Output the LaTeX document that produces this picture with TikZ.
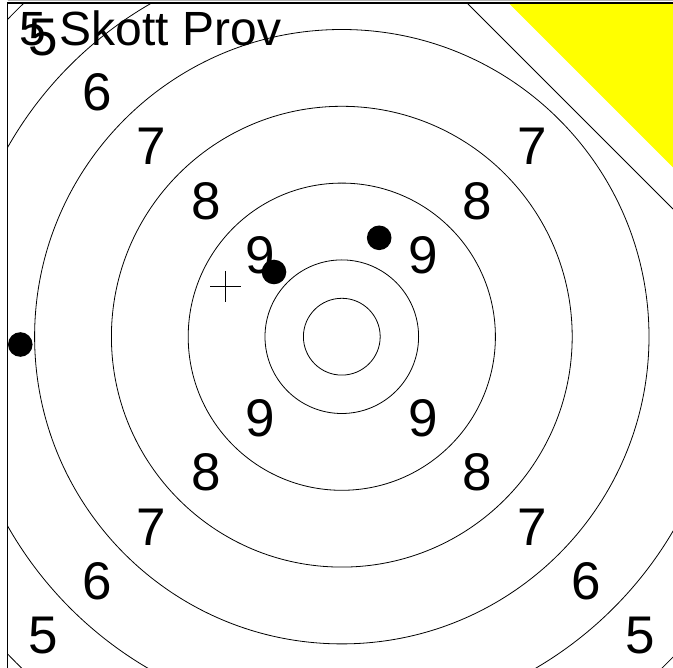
\documentclass[tikz,border=0pt]{standalone}
\usepackage{fontspec}
\setmainfont{Liberation Sans}
\usepackage{tikz}
\usetikzlibrary{calc}

\definecolor{giallo}{RGB}{255,255,0}
\tikzset{
    ring/.style={line width=0.8pt},
    ringnum/.style={inner sep=0pt, font=\fontsize{53}{60}\selectfont},
}

\begin{document}
\begin{tikzpicture}[x=1pt,y=-1pt]
    \useasboundingbox (0,0) rectangle (673,668);
    \coordinate (C) at (341.8,336.7);

    % cerchi
    \begin{scope}
        \clip (7.5,3.5) rectangle (673,668);
        \foreach \r in {38.4,76.8,153.6,230.4,307.2,384,460.8}
            \draw[ring] (C) circle[radius=\r pt];
    \end{scope}

    % numeri
    \foreach \n/\d in {9/81.5, 8/135.8, 7/190.1} {
        \node[ringnum] (tl\n) at ($(C)+(-\d,-\d)$) {\n};
        \node[ringnum] (tr\n) at ($(C)+(\d,-\d)$) {\n};
        \node[ringnum] (bl\n) at ($(C)+(-\d,\d)$) {\n};
        \node[ringnum] (br\n) at ($(C)+(\d,\d)$) {\n};
    }
    \node[ringnum] (tl6) at ($(C)+(-244.4,-244.4)$) {6};
    \node[ringnum] (bl6) at ($(C)+(-244.4,244.4)$) {6};
    \node[ringnum] (br6) at ($(C)+(244.4,244.4)$) {6};
    \node[ringnum] (tl5) at ($(C)+(-298.7,-298.7)$) {5};
    \node[ringnum] (bl5) at ($(C)+(-298.7,298.7)$) {5};
    \node[ringnum] (br5) at ($(C)+(298.7,298.7)$) {5};

    % angolo
    \fill[white] (468,4) -- (673,4) -- (673,209) -- cycle;
    \draw[ring] (468,4) -- (673,209);
    \fill[giallo] (509.7,4) -- (673,4) -- (673,167.3) -- cycle;

    % bordo
    \draw[gray!60, line width=0.8pt] (7.5,0.5) -- (673,0.5);
    \draw[line width=1.5pt] (7.5,668) -- (7.5,3.2) -- (673,3.2);

    % titolo
    \node[anchor=base west, inner sep=0pt, font=\fontsize{48}{56}\selectfont] (titolo) at (19.5,46) {5 Skott Prov};

    % colpi
    \fill (20.3,344.5) circle[radius=12.3pt];
    \fill (274,272) circle[radius=12.3pt];
    \fill (379.2,237.8) circle[radius=12.3pt];

    % croce
    \draw[line width=0.9pt] (210,286.7) -- (241,286.7) (225.5,271) -- (225.5,302.3);
\end{tikzpicture}
\end{document}
